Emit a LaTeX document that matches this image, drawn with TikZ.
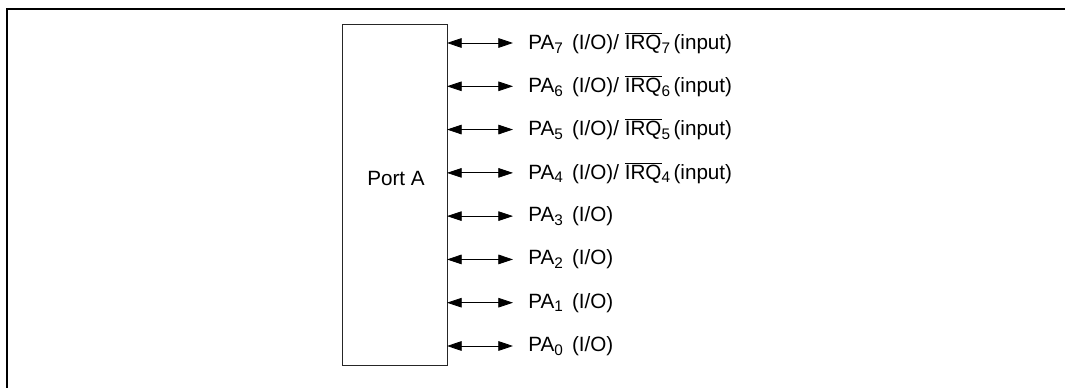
\documentclass[tikz,border=0pt]{standalone}
\usepackage{fontspec}
\setmainfont{Liberation Sans}
\usetikzlibrary{arrows.meta}
\tikzset{
  frameline/.style={line width=1.5pt, line cap=rect},
  portbox/.style={draw, line width=0.8pt, draw=black!85},
  pinarrow/.style={line width=0.6pt, {Triangle[length=11pt,width=7.2pt]}-{Triangle[length=11pt,width=7.2pt]}},
  pinlabel/.style={anchor=west, inner sep=0pt, font=\fontsize{15.5pt}{18pt}\selectfont},
}
\newcommand{\pinsub}[1]{\raisebox{-2.8pt}{\fontsize{11.5pt}{12pt}\selectfont #1}}
\newcommand{\irqbar}{$\overline{\mbox{IRQ}}$}
\begin{document}
\begin{tikzpicture}[x=0.75pt,y=-0.75pt]
\useasboundingbox (0,0) rectangle (1065,388);
\coordinate (fb) at (7,400);
\coordinate (fc) at (7,9);
\coordinate (fr) at (1080,9);
\draw[frameline] (fb) -- (fc) -- (fr);
\node[portbox, minimum width=105*0.75pt, minimum height=341*0.75pt, anchor=north west, inner sep=0pt] (port) at (342,24) {};
\node[pinlabel, anchor=center] (pname) at (396,178.5) {Port A};
\foreach \k/\lab in {
  7/{PA\pinsub{7}\ \,(I/O)/ \irqbar\pinsub{7}\,(input)},
  6/{PA\pinsub{6}\ \,(I/O)/ \irqbar\pinsub{6}\,(input)},
  5/{PA\pinsub{5}\ \,(I/O)/ \irqbar\pinsub{5}\,(input)},
  4/{PA\pinsub{4}\ \,(I/O)/ \irqbar\pinsub{4}\,(input)},
  3/{PA\pinsub{3}\ \,(I/O)},
  2/{PA\pinsub{2}\ \,(I/O)},
  1/{PA\pinsub{1}\ \,(I/O)},
  0/{PA\pinsub{0}\ \,(I/O)}}{
  \pgfmathsetmacro{\yy}{43+43.286*(7-\k)}
  \coordinate (s\k) at (447,\yy);
  \coordinate (e\k) at (513,\yy);
  \draw[pinarrow] (s\k) -- (e\k);
  \node[pinlabel] (l\k) at (528,\yy) {\lab};
}
\end{tikzpicture}
\end{document}
